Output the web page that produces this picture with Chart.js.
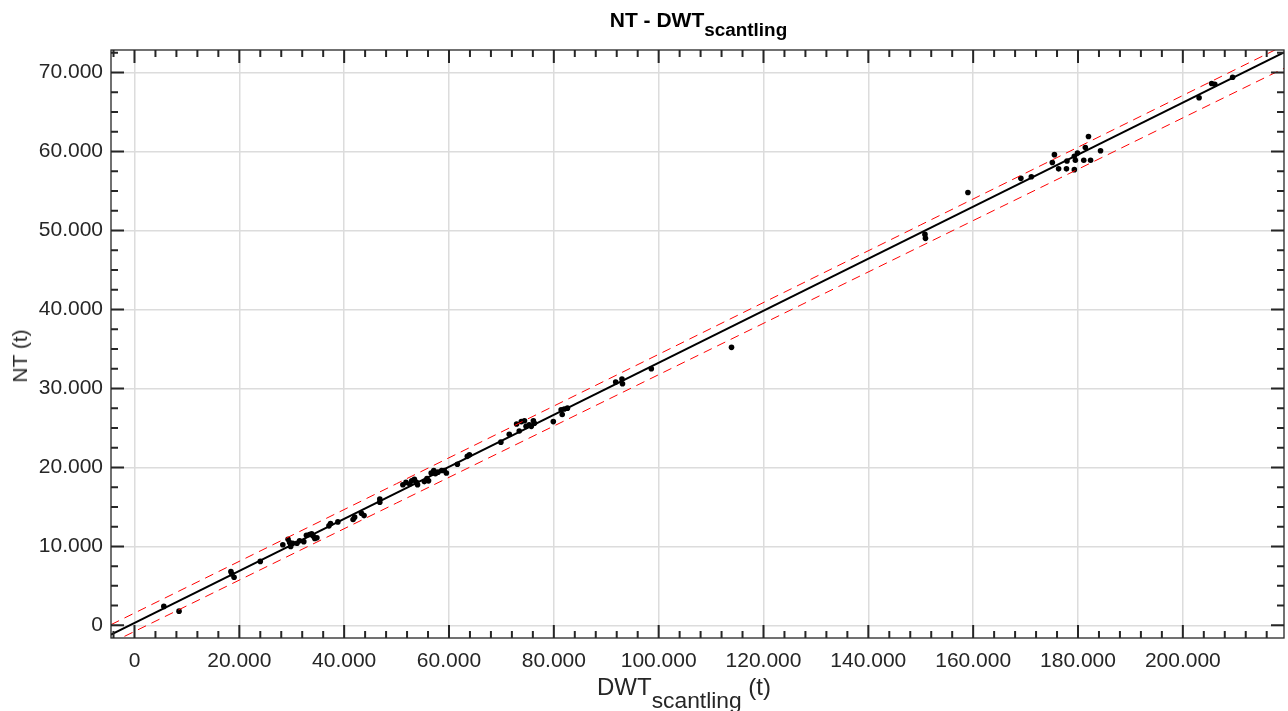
<!DOCTYPE html>
<html>
<head>
<meta charset="utf-8">
<script src="https://cdn.jsdelivr.net/npm/chart.js@4.4.1/dist/chart.umd.min.js"></script>
<style>
    html, body { margin: 0; padding: 0; background: #fff; }
    #wrap { position: relative; width: 1288px; height: 711px; overflow: hidden; }
    #ntChart { position: absolute; left: 0; top: 0; }
    .lbl { position: absolute; font-family: "Liberation Sans", Arial, sans-serif; color: #262626; white-space: nowrap; }
    .lbl sub { line-height: 0; }
    #chartTitle { left: 0; width: 1397px; text-align: center; top: 8px; font-size: 21px; font-weight: bold; color: #000; }
    #chartTitle sub { font-size: 0.9em; vertical-align: -0.45em; }
    #xTitle { left: 597px; top: 673px; font-size: 24px; }
    #xTitle sub { font-size: 0.95em; vertical-align: -0.55em; }
    #yTitle { left: 20px; top: 356px; font-size: 21px; transform: translate(-50%, -50%) rotate(-90deg); }
</style>
</head>
<body>
<div id="wrap">
    <canvas id="ntChart" width="1288" height="711"></canvas>
    <div class="lbl" id="chartTitle">NT - DWT<sub>scantling</sub></div>
    <div class="lbl" id="xTitle">DWT<sub>scantling</sub> (t)</div>
    <div class="lbl" id="yTitle">NT (t)</div>
</div>
<script>
// vessels: deadweight (scantling) vs. lightship/net tonnage
const dwt = [
    5600, 8500, 18400, 18600, 19000, 24000, 28300, 29300, 29600, 29800,
    30200, 31000, 31500, 32300, 32800, 33400, 33800, 34100, 34400, 34800,
    37100, 37400, 38800, 41700, 42000, 43300, 43800, 46800, 46800, 51200,
    51800, 52500, 52900, 53400, 53800, 54000, 55300, 55800, 56100, 56600,
    57100, 57400, 57900, 58600, 59100, 59500, 61600, 63500, 63900, 69900,
    71500, 72900, 73400, 73800, 74400, 74700, 75300, 75700, 76100, 76300,
    79900, 81400, 81600, 82000, 82600, 91800, 93000, 93100, 98600, 113900,
    150800, 150900, 159000, 169100, 171100, 175100, 175500, 176300, 177800, 177900,
    179300, 179500, 179300, 179900, 181100, 181400, 182000, 182400, 184300, 203100,
    205500, 206100, 209500
];
const nt = [
    2400, 1800, 6800, 6500, 6100, 8100, 10200, 10900, 10500, 10000,
    10400, 10400, 10700, 10600, 11400, 11500, 11600, 11300, 11000, 11100,
    12600, 12900, 13100, 13400, 13700, 14200, 13900, 16000, 15600, 17800,
    18100, 17900, 18300, 18500, 18100, 17800, 18200, 18600, 18300, 19300,
    19600, 19200, 19400, 19600, 19600, 19300, 20400, 21400, 21600, 23200,
    24200, 25500, 24600, 25800, 25900, 25200, 25400, 25200, 25900, 25600,
    25800, 27300, 26700, 27400, 27500, 30800, 31200, 30600, 32500, 35200,
    49500, 49000, 54800, 56600, 56800, 58600, 59600, 57800, 57800, 58800,
    59400, 58900, 57700, 59800, 58900, 60500, 61900, 58900, 60100, 66800,
    68600, 68500, 69400
];

// regression line and its bounds
const fitX = [-4480, 219300];
const fitY = [-1180, 72560];
const boundX = [-4480, 50000, 100000, 150000, 219300];
const upperY = [90, 17940, 34320, 50710, 73420];
const lowerY = [-2230, 15490, 31740, 48000, 70530];

const xTicks = [0, 20000, 40000, 60000, 80000, 100000, 120000, 140000, 160000, 180000, 200000];
const yTicks = [0, 10000, 20000, 30000, 40000, 50000, 60000, 70000];
const xMinorStep = 4000;
const yMinorStep = 2500;
const xRange = [-4480, 219300];
const yRange = [-1600, 72850];

const axisColor = '#262626';
const tickFont = { family: '"Liberation Sans", Arial, sans-serif', size: 21 };

function fmtThousands(v) {
    return String(Math.round(v)).replace(/\B(?=(\d{3})+(?!\d))/g, '.');
}

function zipXY(xs, ys) {
    return xs.map((x, i) => ({ x, y: ys[i] }));
}

// box around the plot with inward ticks on every side
const boxTicks = {
    id: 'boxTicks',
    afterDraw(chart) {
        const { ctx, chartArea: a, scales } = chart;
        const eachMinor = (scale, step, range, majors, cb) => {
            for (let v = Math.ceil(range[0] / step) * step; v <= range[1]; v += step) {
                cb(scale.getPixelForValue(v), majors.includes(v) ? 13 : 7);
            }
        };
        ctx.save();
        ctx.strokeStyle = axisColor;
        ctx.lineWidth = 2;
        ctx.beginPath();
        eachMinor(scales.x, xMinorStep, xRange, xTicks, (px, l) => {
            ctx.moveTo(px, a.bottom); ctx.lineTo(px, a.bottom - l);
            ctx.moveTo(px, a.top); ctx.lineTo(px, a.top + l);
        });
        eachMinor(scales.y, yMinorStep, yRange, yTicks, (py, l) => {
            ctx.moveTo(a.left, py); ctx.lineTo(a.left + l, py);
            ctx.moveTo(a.right, py); ctx.lineTo(a.right - l, py);
        });
        ctx.stroke();
        ctx.lineWidth = 1.3;
        ctx.strokeRect(a.left, a.top, a.right - a.left, a.bottom - a.top);
        ctx.restore();
    }
};

const boundStyle = {
    type: 'line',
    borderColor: '#ff0000',
    borderWidth: 1,
    borderDash: [9, 6],
    pointRadius: 0,
    fill: false,
    clip: 0
};

new Chart(document.getElementById('ntChart').getContext('2d'), {
    type: 'scatter',
    data: {
        datasets: [
            { label: 'upper', data: zipXY(boundX, upperY), ...boundStyle },
            { label: 'lower', data: zipXY(boundX, lowerY), ...boundStyle },
            {
                label: 'fit',
                type: 'line',
                data: zipXY(fitX, fitY),
                borderColor: '#000',
                borderWidth: 2,
                pointRadius: 0,
                fill: false,
                clip: 0
            },
            {
                label: 'NT',
                data: zipXY(dwt, nt),
                backgroundColor: '#000',
                borderColor: '#000',
                borderWidth: 0,
                pointRadius: 2.8,
                clip: 0
            }
        ]
    },
    options: {
        responsive: false,
        animation: false,
        layout: { padding: { top: 50, right: 2, left: 0, bottom: 0 } },
        plugins: {
            legend: { display: false },
            tooltip: { enabled: false }
        },
        scales: {
            x: {
                type: 'linear',
                min: xRange[0],
                max: xRange[1],
                afterBuildTicks: scale => { scale.ticks = xTicks.map(value => ({ value })); },
                afterFit: scale => { scale.height = 73; },
                border: { display: false },
                grid: { color: '#dcdcdc', lineWidth: 1.5, drawTicks: false },
                ticks: {
                    padding: 11,
                    color: axisColor,
                    font: tickFont,
                    maxRotation: 0,
                    callback: v => fmtThousands(v)
                }
            },
            y: {
                type: 'linear',
                min: yRange[0],
                max: yRange[1],
                afterBuildTicks: scale => { scale.ticks = yTicks.map(value => ({ value })); },
                afterFit: scale => { scale.width = 111; },
                border: { display: false },
                grid: { color: '#dcdcdc', lineWidth: 1.5, drawTicks: false },
                ticks: {
                    padding: 8,
                    color: axisColor,
                    font: tickFont,
                    callback: v => fmtThousands(v)
                }
            }
        }
    },
    plugins: [boxTicks]
});
</script>
</body>
</html>
